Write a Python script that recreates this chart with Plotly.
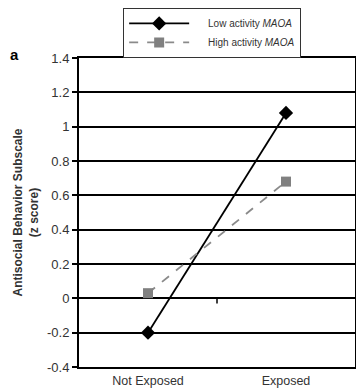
import plotly.graph_objects as go

categories = ["Not Exposed", "Exposed"]
low_activity = [-0.2, 1.08]
high_activity = [0.03, 0.68]
series_names = ["Low activity <i>MAOA</i>", "High activity <i>MAOA</i>"]
y_ticks = [-0.4, -0.2, 0, 0.2, 0.4, 0.6, 0.8, 1, 1.2, 1.4]
y_tick_labels = ["-0.4", "-0.2", "0", "0.2", "0.4", "0.6", "0.8", "1", "1.2", "1.4"]

pad = "\u00a0" * 5  # gap between legend symbol and text

fig = go.Figure()
fig.add_trace(go.Scatter(
    x=[0, 1], y=low_activity, mode="lines+markers",
    name=pad + series_names[0],
    line=dict(color="black", width=1.8),
    marker=dict(symbol="diamond", size=11, color="black"),
))
fig.add_trace(go.Scatter(
    x=[0, 1], y=high_activity, mode="lines+markers",
    name=pad + series_names[1],
    line=dict(color="#8a8a8a", width=1.8, dash="dash"),
    marker=dict(symbol="square", size=10, color="#808080"),
))

# small tick mark on the category axis at y=0 between categories
fig.add_shape(type="line", xref="x", yref="y", x0=0.5, x1=0.5, y0=0, y1=-0.03,
              line=dict(color="black", width=1.5))

fig.add_annotation(text="<b>a</b>", xref="paper", yref="paper", x=-0.235, y=1.01,
                   xanchor="center", yanchor="middle", showarrow=False,
                   font=dict(size=15, color="black", family="Liberation Sans, Arial"))

# page body has an 8px default margin, so the figure is 8px smaller than the window
fig.update_layout(
    width=356, height=380,
    margin=dict(l=71, r=9, t=50, b=21, autoexpand=False),
    paper_bgcolor="white", plot_bgcolor="white",
    font=dict(family="Liberation Sans, Arial", size=13, color="#333333"),
    showlegend=True,
    legend=dict(x=0.16, y=1.162, xanchor="left", yanchor="top",
                bordercolor="#333333", borderwidth=1, bgcolor="white",
                font=dict(size=10, color="#333333"),
                tracegroupgap=0, itemwidth=60),
    xaxis=dict(
        range=[-0.5, 1.5], tickmode="array", tickvals=[0, 1], ticktext=categories,
        showgrid=False, zeroline=False, showline=True, linecolor="black", linewidth=2,
        mirror=True, ticks="", ticklabelstandoff=1, tickfont=dict(size=12.5, color="#333333"),
    ),
    yaxis=dict(
        range=[-0.4, 1.4], tickmode="array", tickvals=y_ticks, ticktext=y_tick_labels,
        showgrid=True, gridcolor="black", gridwidth=1.7,
        zeroline=False, showline=True, linecolor="black", linewidth=2, mirror=True,
        ticks="outside", ticklen=5, tickcolor="black", tickwidth=1.5,
        tickfont=dict(size=13, color="#333333"),
        title=dict(text="<b>Antisocial Behavior Subscale<br>(z score)</b>",
                   font=dict(size=12, color="#333333"), standoff=6),
    ),
)

fig.write_html("out.html")
